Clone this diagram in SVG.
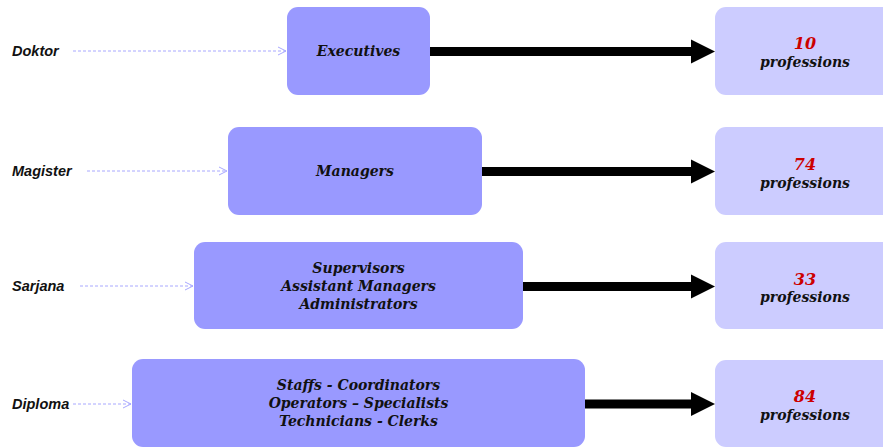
<svg xmlns="http://www.w3.org/2000/svg" width="883" height="448" viewBox="0 0 883 448">
<defs>
<style>
.lvl{fill:#9999FF}
.cnt{fill:#CCCCFF}
.t{font-family:"DejaVu Serif","Liberation Serif",serif;font-weight:bold;font-style:italic;font-size:14px;fill:#111;text-anchor:middle}
.n{font-family:"DejaVu Serif","Liberation Serif",serif;font-weight:bold;font-style:italic;font-size:16px;fill:#CC0000;text-anchor:middle}
.lab{font-family:"Liberation Sans",Arial,sans-serif;font-weight:bold;font-style:italic;font-size:14.5px;fill:#111}
.dash{stroke:#A8A8FF;stroke-width:1;stroke-dasharray:3,2;fill:none}
.thick{stroke:#000;stroke-width:9;fill:none}
</style>
<marker id="open" markerWidth="10" markerHeight="10" refX="9" refY="5" orient="auto" markerUnits="userSpaceOnUse">
<path d="M1,1 L9,5 L1,9" fill="none" stroke="#A8A8FF" stroke-width="1"/>
</marker>
</defs>
<g id="connectors">
<line class="dash" x1="73" y1="51" x2="286" y2="51" marker-end="url(#open)"/>
<line class="dash" x1="87" y1="171" x2="227" y2="171" marker-end="url(#open)"/>
<line class="dash" x1="80" y1="286" x2="193" y2="286" marker-end="url(#open)"/>
<line class="dash" x1="73" y1="404" x2="131" y2="404" marker-end="url(#open)"/>
<line class="thick" x1="430" y1="51.5" x2="694" y2="51.5"/>
<polygon points="691,39.5 715,51.5 691,63.5" fill="#000"/>
<line class="thick" x1="482" y1="171.5" x2="694" y2="171.5"/>
<polygon points="691,159.5 715,171.5 691,183.5" fill="#000"/>
<line class="thick" x1="523" y1="286.5" x2="694" y2="286.5"/>
<polygon points="691,274.5 715,286.5 691,298.5" fill="#000"/>
<line class="thick" x1="585" y1="404" x2="694" y2="404"/>
<polygon points="691,392 715,404 691,416" fill="#000"/>
</g>
<g id="label-doktor"><text class="lab" x="12" y="56">Doktor</text></g>
<g id="label-magister"><text class="lab" x="12" y="176">Magister</text></g>
<g id="label-sarjana"><text class="lab" x="12" y="291">Sarjana</text></g>
<g id="label-diploma"><text class="lab" x="12" y="409">Diploma</text></g>
<g id="executives">
<rect class="lvl" x="287" y="7" width="143" height="88" rx="11"/>
<text class="t" x="358.5" y="56">Executives</text>
</g>
<g id="managers">
<rect class="lvl" x="228" y="127" width="254" height="88" rx="11"/>
<text class="t" x="355" y="176">Managers</text>
</g>
<g id="supervisors">
<rect class="lvl" x="194" y="242" width="329" height="87" rx="11"/>
<text class="t" x="358.5" y="273">Supervisors</text>
<text class="t" x="358.5" y="291">Assistant Managers</text>
<text class="t" x="358.5" y="309">Administrators</text>
</g>
<g id="staffs">
<rect class="lvl" x="132" y="359" width="453" height="88" rx="11"/>
<text class="t" x="358.5" y="390">Staffs - Coordinators</text>
<text class="t" x="358.5" y="408">Operators – Specialists</text>
<text class="t" x="358.5" y="426">Technicians - Clerks</text>
</g>
<g id="count-10">
<rect class="cnt" x="715" y="7" width="180" height="88" rx="11"/>
<text class="n" x="805" y="49">10</text>
<text class="t" x="805" y="67">professions</text>
</g>
<g id="count-74">
<rect class="cnt" x="715" y="127" width="180" height="88" rx="11"/>
<text class="n" x="805" y="170">74</text>
<text class="t" x="805" y="188">professions</text>
</g>
<g id="count-33">
<rect class="cnt" x="715" y="242" width="180" height="87" rx="11"/>
<text class="n" x="805" y="285">33</text>
<text class="t" x="805" y="302">professions</text>
</g>
<g id="count-84">
<rect class="cnt" x="715" y="360" width="180" height="87" rx="11"/>
<text class="n" x="805" y="402">84</text>
<text class="t" x="805" y="420">professions</text>
</g>
</svg>
